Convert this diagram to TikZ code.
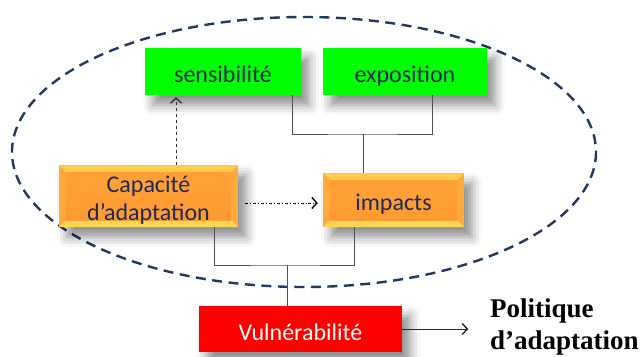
\documentclass[tikz,border=0pt]{standalone}
\usepackage{fontspec}
\setmainfont{Carlito}
\newfontfamily\serifbold{Liberation Serif}
\usetikzlibrary{arrows.meta,shadows.blur,calc}
\definecolor{navy}{HTML}{1B2A5A}
\definecolor{ellcol}{HTML}{1F3864}
\definecolor{grn}{HTML}{00FF00}
\definecolor{orgc}{HTML}{FF9A33}
\definecolor{orgtop}{HTML}{FFCB4A}
\definecolor{orgbot}{HTML}{FFD650}
\definecolor{orgside}{HTML}{FFAA3E}
\definecolor{connc}{HTML}{505050}
\tikzset{
  box/.style={rectangle, inner sep=0pt, font=\fontsize{24}{28}\selectfont,
    align=center, blur shadow={shadow xshift=8pt, shadow yshift=-10pt,
    shadow blur radius=10pt, shadow opacity=45}},
  greenbox/.style={box, fill=grn, text=navy, text height=24pt, text depth=3pt},
  redbox/.style={box, fill=red, text=white, text height=25pt, text depth=3pt},
  bevelbox/.style={box, fill=orgc, text=navy,
    path picture={
      \coordinate (bl) at (path picture bounding box.south west);
      \coordinate (tr) at (path picture bounding box.north east);
      \coordinate (tl) at (path picture bounding box.north west);
      \coordinate (br) at (path picture bounding box.south east);
      \fill[orgside] (bl) rectangle (tr);
      \fill[orgtop] (tl) -- (tr) -- ($(tr)+(-7pt,-7pt)$) -- ($(tl)+(7pt,-7pt)$) -- cycle;
      \fill[orgbot] (bl) -- (br) -- ($(br)+(-7pt,7pt)$) -- ($(bl)+(7pt,7pt)$) -- cycle;
      \shade[top color=orgc!85!orgtop, bottom color=orgc] ($(bl)+(7pt,7pt)$) rectangle ($(tr)+(-7pt,-7pt)$);
    }},
  conn/.style={draw=connc, line width=0.9pt},
  chev/.style={-{Straight Barb[length=5pt,width=11pt,line width=1.4pt]}},
}
\begin{document}
\begin{tikzpicture}[x=1pt,y=-1pt]
\useasboundingbox (0,0) rectangle (642,356);
% ellipse
\draw[ellcol, line width=2.4pt, dash pattern=on 10pt off 6.5pt] (304,152) ellipse [x radius=292, y radius=135];
% nodes
\node[greenbox, minimum width=156pt, minimum height=47pt] (s) at (223,71.5) {sensibilité};
\node[greenbox, minimum width=164pt, minimum height=47pt] (e) at (405,71.5) {exposition};
\node[bevelbox, minimum width=179pt, minimum height=62pt, text height=48pt, text depth=0pt] (c) at (148.5,196) {Capacité\\d’adaptation};
\node[bevelbox, minimum width=141pt, minimum height=54pt, text height=23pt, text depth=3pt] (i) at (393.5,200) {impacts};
\node[redbox, minimum width=203pt, minimum height=46pt] (v) at (300.5,329) {Vulnérabilité};
\node[anchor=base west, inner sep=0pt, align=left, font=\serifbold\bfseries\fontsize{27}{32}\selectfont] (p) at (490,349) {Politique\\d’adaptation};
% junctions
\coordinate (j1) at (363,134);
\coordinate (j2) at (287,265);
% connectors
\draw[conn] ([xshift=69pt]s.south) |- (j1) -| ([xshift=27pt]e.south);
\draw[conn] (j1) -- ([xshift=-30.5pt]i.north);
\draw[conn] ([xshift=65.5pt]c.south) |- (j2) -| ([xshift=-39.5pt]i.south);
\draw[conn] (j2) -- ([xshift=-13.5pt]v.north);
\draw[black!80, line width=0.9pt, dashed, chev] ([xshift=27.5pt]c.north) -- ([xshift=-47pt,yshift=-2pt]s.south);
\draw[black, line width=0.9pt, dash dot, chev] ([xshift=7pt]c.east |- 0,203) -- ([xshift=-5pt]i.west |- 0,203);
\draw[black!85, line width=0.9pt, chev] (v.east) -- ++(66,0);
\end{tikzpicture}
\end{document}
